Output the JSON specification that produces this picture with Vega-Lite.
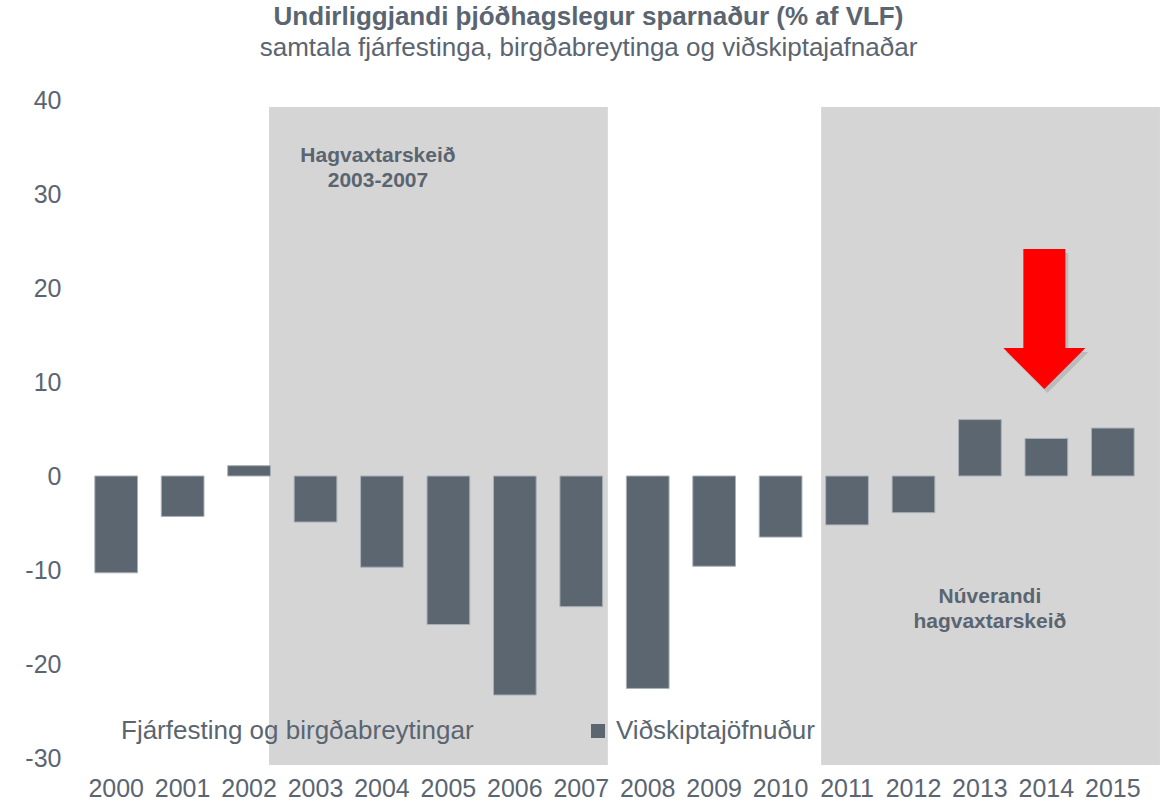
{
  "$schema": "https://vega.github.io/schema/vega-lite/v6.json",
  "width": 1063,
  "height": 658,
  "autosize": "none",
  "padding": {"left": 83, "top": 100, "right": 24, "bottom": 45},
  "background": "white",
  "config": {
    "view": {"stroke": null},
    "font": "Liberation Sans",
    "axisY": {"domain": false, "ticks": false, "grid": false, "labelFontSize": 25, "labelColor": "#5a6571", "labelPadding": 22, "title": null}
  },
  "title": {
    "text": "Undirliggjandi þjóðhagslegur sparnaður (% af VLF)",
    "subtitle": "samtala fjárfestinga, birgðabreytinga og viðskiptajafnaðar",
    "anchor": "middle",
    "dx": -26,
    "offset": 27,
    "font": "Liberation Sans",
    "fontSize": 26,
    "fontWeight": "bold",
    "color": "#5a6571",
    "subtitleFont": "Liberation Sans",
    "subtitleFontSize": 26,
    "subtitleColor": "#5a6571",
    "subtitlePadding": 5
  },
  "datasets": {
    "bars": [
      {"year": "2000", "value": -10.3, "series": "Viðskiptajöfnuður"},
      {"year": "2001", "value": -4.3, "series": "Viðskiptajöfnuður"},
      {"year": "2002", "value": 1.1, "series": "Viðskiptajöfnuður"},
      {"year": "2003", "value": -4.9, "series": "Viðskiptajöfnuður"},
      {"year": "2004", "value": -9.7, "series": "Viðskiptajöfnuður"},
      {"year": "2005", "value": -15.8, "series": "Viðskiptajöfnuður"},
      {"year": "2006", "value": -23.3, "series": "Viðskiptajöfnuður"},
      {"year": "2007", "value": -13.9, "series": "Viðskiptajöfnuður"},
      {"year": "2008", "value": -22.6, "series": "Viðskiptajöfnuður"},
      {"year": "2009", "value": -9.6, "series": "Viðskiptajöfnuður"},
      {"year": "2010", "value": -6.5, "series": "Viðskiptajöfnuður"},
      {"year": "2011", "value": -5.2, "series": "Viðskiptajöfnuður"},
      {"year": "2012", "value": -3.9, "series": "Viðskiptajöfnuður"},
      {"year": "2013", "value": 6.0, "series": "Viðskiptajöfnuður"},
      {"year": "2014", "value": 4.0, "series": "Viðskiptajöfnuður"},
      {"year": "2015", "value": 5.1, "series": "Viðskiptajöfnuður"}
    ],
    "shades": [
      {"x0": 2.80, "x1": 7.90, "top": 39.26, "bottom": -30.74},
      {"x0": 11.11, "x1": 16.21, "top": 39.26, "bottom": -30.74}
    ],
    "notes": [
      {"x": 4.44, "y": 34.0, "label": "Hagvaxtarskeið\n2003-2007"},
      {"x": 13.65, "y": -12.9, "label": "Núverandi\nhagvaxtarskeið"}
    ],
    "arrow": [
      {"x": 14.47, "y": 16.7}
    ]
  },
  "layer": [
    {
      "data": {"name": "shades"},
      "mark": {"type": "rect", "color": "#d5d5d5", "clip": false},
      "encoding": {
        "x": {"field": "x0", "type": "quantitative", "scale": {"domain": [0, 16], "nice": false, "zero": false}, "axis": null},
        "x2": {"field": "x1"},
        "y": {"field": "top", "type": "quantitative", "title": null},
        "y2": {"field": "bottom"}
      }
    },
    {
      "data": {"name": "bars"},
      "mark": {"type": "bar", "stroke": "#a9b0b7", "strokeWidth": 1},
      "encoding": {
        "x": {
          "field": "year", "type": "ordinal",
          "scale": {"paddingInner": 0.357, "paddingOuter": 0.178},
          "axis": {"title": null, "labelFontSize": 25, "labelColor": "#5a6571", "ticks": false, "domain": false, "labelPadding": 18, "labelAngle": 0}
        },
        "y": {
          "field": "value", "type": "quantitative",
          "scale": {"domain": [-30, 40], "nice": false},
          "axis": {"values": [-30, -20, -10, 0, 10, 20, 30, 40], "labelExpr": "'' + datum.value"},
          "title": null
        },
        "color": {
          "field": "series", "type": "nominal",
          "scale": {"domain": ["Fjárfesting og birgðabreytingar", "Viðskiptajöfnuður"], "range": ["rgba(0,0,0,0)", "#5b6670"]},
          "legend": {
            "orient": "none", "legendX": 7, "legendY": 618, "direction": "horizontal", "columns": 2,
            "title": null, "labelFontSize": 26, "labelColor": "#5a6571", "labelLimit": 600,
            "symbolType": "square", "symbolSize": 196, "symbolStrokeWidth": 0, "labelOffset": 5,
            "columnPadding": 111, "padding": 0
          }
        }
      }
    },
    {
      "mark": {"type": "rule", "color": "#8e98a2", "strokeWidth": 2},
      "encoding": {
        "y": {"datum": 0, "type": "quantitative", "title": null}
      }
    },
    {
      "data": {"name": "notes"},
      "mark": {"type": "text", "font": "Liberation Sans", "fontSize": 21, "fontWeight": "bold", "color": "#5a6571", "align": "center", "baseline": "middle", "lineBreak": "\n", "lineHeight": 25},
      "encoding": {
        "x": {"field": "x", "type": "quantitative", "scale": {"domain": [0, 16], "nice": false, "zero": false}, "axis": null},
        "y": {"field": "y", "type": "quantitative", "title": null},
        "text": {"field": "label", "type": "nominal"}
      }
    },
    {
      "data": {"name": "arrow"},
      "mark": {"type": "point", "filled": true, "color": "#555555", "opacity": 0.2, "size": 19600, "xOffset": 3, "yOffset": 4, "shape": "M-0.3,-1 L0.3,-1 L0.3,0.414 L0.586,0.414 L0,1 L-0.586,0.414 L-0.3,0.414 Z"},
      "encoding": {
        "x": {"field": "x", "type": "quantitative", "scale": {"domain": [0, 16], "nice": false, "zero": false}, "axis": null},
        "y": {"field": "y", "type": "quantitative", "title": null}
      }
    },
    {
      "data": {"name": "arrow"},
      "mark": {"type": "point", "filled": true, "color": "#ff0000", "opacity": 1, "size": 19600, "shape": "M-0.3,-1 L0.3,-1 L0.3,0.414 L0.586,0.414 L0,1 L-0.586,0.414 L-0.3,0.414 Z"},
      "encoding": {
        "x": {"field": "x", "type": "quantitative", "scale": {"domain": [0, 16], "nice": false, "zero": false}, "axis": null},
        "y": {"field": "y", "type": "quantitative", "title": null}
      }
    }
  ],
  "resolve": {"scale": {"x": "independent"}}
}
